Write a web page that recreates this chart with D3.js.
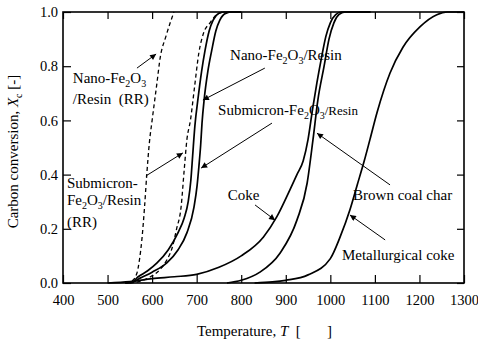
<!DOCTYPE html>
<html>
<head>
<meta charset="utf-8">
<script src="https://cdn.jsdelivr.net/npm/d3@7"></script>
<style>
  body { margin: 0; background: #fff; }
  svg text { font-family: "Liberation Serif", "Times New Roman", serif; fill: #000; }
</style>
</head>
<body>
<script>
// temperature and carbon conversion Xc
var tempTicks = [400, 500, 600, 700, 800, 900, 1000, 1100, 1200, 1300];
var convTicks = [0, 0.2, 0.4, 0.6, 0.8, 1.0];

var nanoRR = [[540,0],[555,0.008],[566,0.037],[572,0.09],[577,0.16],[583,0.28],[588,0.4],[594,0.52],[600,0.6],[611,0.74],[618,0.83],[631,0.91],[649,1.0]];
var subRR = [[550,0],[570,0.005],[595,0.022],[618,0.05],[633,0.085],[645,0.13],[655,0.2],[665,0.28],[672,0.417],[678,0.528],[686,0.6],[695,0.72],[705,0.85],[715,0.92],[730,0.96],[745,0.99],[760,1.0]];
var nanoResin = [[540,0],[555,0.003],[568,0.022],[590,0.045],[611,0.074],[636,0.122],[658,0.185],[672,0.24],[681,0.3],[687,0.38],[691,0.47],[696,0.58],[703,0.68],[711,0.78],[719,0.86],[728,0.93],[737,0.97],[750,0.995],[762,1.0],[800,1.0]];
var subResin = [[540,0],[555,0.003],[573,0.018],[600,0.04],[633,0.074],[658,0.122],[678,0.185],[694,0.28],[701,0.36],[705,0.43],[709,0.51],[712,0.59],[717,0.68],[725,0.78],[734,0.86],[743,0.93],[752,0.97],[765,0.995],[780,1.0],[800,1.0]];
var coke = [[500,0],[550,0.005],[600,0.016],[650,0.023],[700,0.032],[750,0.058],[800,0.1],[850,0.17],[880,0.245],[909,0.343],[925,0.4],[939,0.45],[950,0.53],[960,0.64],[970,0.74],[980,0.83],[990,0.91],[1000,0.96],[1012,0.99],[1025,1.0],[1090,1.0]];
var brownChar = [[768,0],[800,0.01],[842,0.04],[887,0.11],[925,0.232],[948,0.369],[961,0.528],[972,0.675],[986,0.8],[997,0.9],[1008,0.96],[1019,0.99],[1033,1.0],[1090,1.0]];
var metCoke = [[830,0],[870,0.004],[900,0.01],[950,0.03],[1000,0.09],[1022,0.17],[1044,0.27],[1060,0.36],[1076,0.45],[1089,0.53],[1105,0.63],[1134,0.775],[1163,0.87],[1201,0.945],[1239,0.99],[1262,1.0],[1300,1.0]];

var width = 478, height = 339;
var margin = {left: 63, top: 12, right: 14, bottom: 56};
var w = width - margin.left - margin.right;
var h = height - margin.top - margin.bottom;

var x = d3.scaleLinear().domain([400, 1300]).range([0, w]);
var y = d3.scaleLinear().domain([0, 1]).range([h, 0]);

var svg = d3.select('body').append('svg')
  .attr('width', width)
  .attr('height', height);

svg.append('defs').append('marker')
  .attr('id', 'arr')
  .attr('viewBox', '0 0 10 10')
  .attr('refX', 10).attr('refY', 5)
  .attr('markerWidth', 8).attr('markerHeight', 6)
  .attr('markerUnits', 'userSpaceOnUse')
  .attr('orient', 'auto')
  .append('path').attr('d', 'M0,0L10,5L0,10z').attr('fill', '#000');

var g = svg.append('g').attr('transform', 'translate(' + margin.left + ',' + margin.top + ')');

// axes, ticks pointing inward
var fmtY = d3.format('.1f');
var xb = g.append('g').attr('transform', 'translate(0,' + h + ')')
  .call(d3.axisBottom(x).tickValues(tempTicks).tickSizeInner(-8).tickSizeOuter(0).tickPadding(12).tickFormat(d3.format('d')));
var xt = g.append('g')
  .call(d3.axisTop(x).tickValues(tempTicks).tickSizeInner(-7).tickSizeOuter(0).tickFormat(''));
var yl = g.append('g')
  .call(d3.axisLeft(y).tickValues(convTicks).tickSizeInner(-8).tickSizeOuter(0).tickPadding(5).tickFormat(fmtY));
var yr = g.append('g').attr('transform', 'translate(' + w + ',0)')
  .call(d3.axisRight(y).tickValues(convTicks).tickSizeInner(-7).tickSizeOuter(0).tickFormat(''));

[xb, xt, yl, yr].forEach(function(a) {
  a.attr('font-family', null).attr('font-size', null);
  a.select('.domain').remove();
  a.selectAll('.tick line').attr('stroke', '#000').attr('stroke-width', 1.2);
  a.selectAll('.tick text').style('font-size', '14.5px');
});

g.append('rect').attr('width', w).attr('height', h)
  .attr('fill', 'none').attr('stroke', '#000').attr('stroke-width', 1.6);

// curves
var line = d3.line()
  .x(function(d){ return x(d[0]); })
  .y(function(d){ return y(d[1]); })
  .curve(d3.curveMonotoneX);

var series = [
  {data: coke, dash: null},
  {data: brownChar, dash: null},
  {data: metCoke, dash: null},
  {data: nanoResin, dash: null},
  {data: subResin, dash: null},
  {data: nanoRR, dash: '4,3'},
  {data: subRR, dash: '4,3'}
];
g.selectAll('.curve').data(series).enter().append('path')
  .attr('class', 'curve')
  .attr('d', function(d){ return line(d.data); })
  .attr('fill', 'none')
  .attr('stroke', '#000')
  .attr('stroke-width', function(d){ return d.dash ? 1.3 : 1.7; })
  .attr('stroke-dasharray', function(d){ return d.dash; });

// annotations (positions in data units)
function label(parts, T, X, size) {
  var t = g.append('text').attr('x', x(T)).attr('y', y(X)).style('font-size', (size || 15) + 'px');
  parts.forEach(function(p) {
    var s = t.append('tspan').text(p.t);
    if (p.sub) s.attr('dy', 4).style('font-size', '10px');
    if (p.up) s.attr('dy', -4);
    if (p.size) s.style('font-size', p.size + 'px');
  });
}
function arrow(T1, X1, T2, X2) {
  g.append('line')
    .attr('x1', x(T1)).attr('y1', y(X1))
    .attr('x2', x(T2)).attr('y2', y(X2))
    .attr('stroke', '#000').attr('stroke-width', 1)
    .attr('marker-end', 'url(#arr)');
}

label([{t: 'Nano-Fe'}, {t: '2', sub: true}, {t: 'O', up: true}, {t: '3', sub: true}], 422, 0.738);
label([{t: '/Resin\u00a0\u00a0(RR)'}], 422, 0.662);
arrow(566, 0.793, 609, 0.845);

label([{t: 'Submicron-'}], 409, 0.35);
label([{t: 'Fe'}, {t: '2', sub: true}, {t: 'O', up: true}, {t: '3', sub: true}, {t: '/Resin', up: true}], 409, 0.288);
label([{t: '(RR)'}], 409, 0.207);
arrow(586, 0.395, 669, 0.48);

label([{t: 'Nano-Fe'}, {t: '2', sub: true}, {t: 'O', up: true}, {t: '3', sub: true}, {t: '/Resin', up: true}], 775, 0.823);
arrow(853, 0.793, 714, 0.675);

label([{t: 'Submicron-Fe'}, {t: '2', sub: true}, {t: 'O', up: true}, {t: '3', sub: true}, {t: '/Resin', up: true, size: 13}], 748, 0.62);
arrow(869, 0.59, 710, 0.424);

label([{t: 'Coke'}], 770, 0.306);
arrow(831, 0.288, 876, 0.232);

label([{t: 'Brown coal char'}], 1051, 0.306);
arrow(1134, 0.362, 970, 0.553);

label([{t: 'Metallurgical coke'}], 1026, 0.085);
arrow(1123, 0.159, 1044, 0.251);

// axis titles
var xt2 = svg.append('text')
  .attr('x', margin.left + w / 2 + 1).attr('y', 336)
  .attr('text-anchor', 'middle').style('font-size', '15px');
xt2.append('tspan').text('Temperature,\u00a0');
xt2.append('tspan').text('T').style('font-style', 'italic');
xt2.append('tspan').text('\u00a0\u00a0[\u00a0\u00a0\u00a0\u00a0\u00a0\u00a0\u00a0]');

var yt = svg.append('text')
  .attr('transform', 'translate(18,' + (margin.top + h / 2 + 4) + ') rotate(-90)')
  .attr('text-anchor', 'middle').style('font-size', '15px');
yt.append('tspan').text('Carbon conversion, ');
yt.append('tspan').text('X').style('font-style', 'italic');
yt.append('tspan').text('c').attr('dy', 4).style('font-size', '10px');
yt.append('tspan').text(' [-]').attr('dy', -4);
</script>
</body>
</html>
